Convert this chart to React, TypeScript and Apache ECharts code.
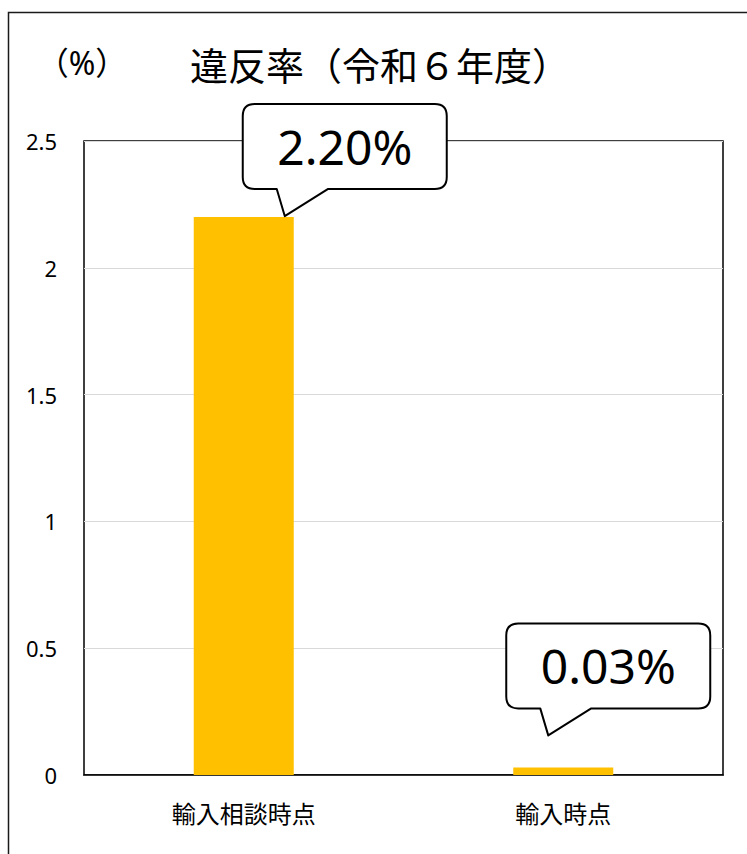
import React, { useEffect, useRef } from 'react';
import * as echarts from 'echarts';

const categories = ['輸入相談時点', '輸入時点'];
const values = [2.2, 0.03];
const valueLabels = ['2.20%', '0.03%'];
const titleText = '違反率（令和６年度）';
const unitText = '（%）';
const yMin = 0;
const yMax = 2.5;
const yInterval = 0.5;

// callout tip offsets relative to the top-centre of each bar (layout only)
const calloutTipOffsets = [
  [41, -1],
  [-15, -32],
];

const FONT = '"Noto Sans", "Noto Sans CJK JP", sans-serif';

const CALLOUT_D =
  'M -30 -112 L 150 -112 Q 162 -112 162 -100 L 162 -39 Q 162 -27 150 -27 L 43 -27 L 0 0 L -8 -27 L -30 -27 Q -42 -27 -42 -39 L -42 -100 Q -42 -112 -30 -112 Z';
echarts.graphic.registerShape('callout', echarts.graphic.extendPath(CALLOUT_D, {}));

export default function App() {
  const ref = useRef<HTMLDivElement>(null);

  useEffect(() => {
    if (!ref.current) return;
    const chart = echarts.init(ref.current, undefined, { renderer: 'svg' });
    chart.setOption({
      animation: false,
      backgroundColor: '#ffffff',
      textStyle: { fontFamily: FONT },
      title: {
        text: titleText,
        left: 380,
        top: 46,
        padding: 0,
        textAlign: 'center',
        textStyle: { fontFamily: FONT, fontSize: 38, fontWeight: 'normal', color: '#000' },
      },
      grid: {
        left: 84,
        top: 141,
        right: 24,
        bottom: 79,
        show: true,
        borderColor: '#000',
        borderWidth: 1.5,
        backgroundColor: 'transparent',
      },
      xAxis: {
        type: 'category',
        data: categories,
        axisTick: { show: false },
        axisLine: { show: true, lineStyle: { color: '#000', width: 1.5 } },
        axisLabel: { color: '#000', fontSize: 24, margin: 26, fontFamily: FONT },
      },
      yAxis: {
        type: 'value',
        min: yMin,
        max: yMax,
        interval: yInterval,
        axisLine: { show: false },
        axisTick: { show: false },
        axisLabel: { color: '#000', fontSize: 22, margin: 27, fontFamily: FONT },
        splitLine: { show: true, lineStyle: { color: '#d9d9d9', width: 1 } },
      },
      series: [
        {
          type: 'bar',
          data: values,
          barWidth: 100,
          itemStyle: { color: '#FFC000' },
        },
      ],
    });

    const elements: any[] = [
      {
        type: 'rect',
        z: 100,
        shape: { x: 8.5, y: 12.5, width: 800, height: 900 },
        style: { fill: 'none', stroke: '#1a1a1a', lineWidth: 1.5 },
        silent: true,
      },
      {
        type: 'text',
        z: 100,
        x: 82,
        y: 62,
        style: {
          text: unitText,
          fontSize: 32,
          fontFamily: FONT,
          fill: '#000',
          align: 'center',
          verticalAlign: 'middle',
        },
      },
    ];

    values.forEach((v, i) => {
      const p = chart.convertToPixel({ seriesIndex: 0 }, [i, v]) as number[];
      const tx = p[0] + calloutTipOffsets[i][0];
      const ty = p[1] + calloutTipOffsets[i][1];
      elements.push({
        type: 'callout',
        z: 100,
        x: tx,
        y: ty,
        style: { fill: '#fff', stroke: '#000', lineWidth: 2, lineJoin: 'round' },
      });
      elements.push({
        type: 'text',
        z: 101,
        x: tx + 60,
        y: ty - 69.5,
        style: {
          text: valueLabels[i],
          fontSize: 48,
          fontFamily: FONT,
          fill: '#000',
          align: 'center',
          verticalAlign: 'middle',
        },
      });
    });

    chart.setOption({ graphic: { elements } });

    return () => chart.dispose();
  }, []);

  return (
    <div
      ref={ref}
      style={{ position: 'absolute', left: 0, top: 0, width: 747, height: 854 }}
    />
  );
}
